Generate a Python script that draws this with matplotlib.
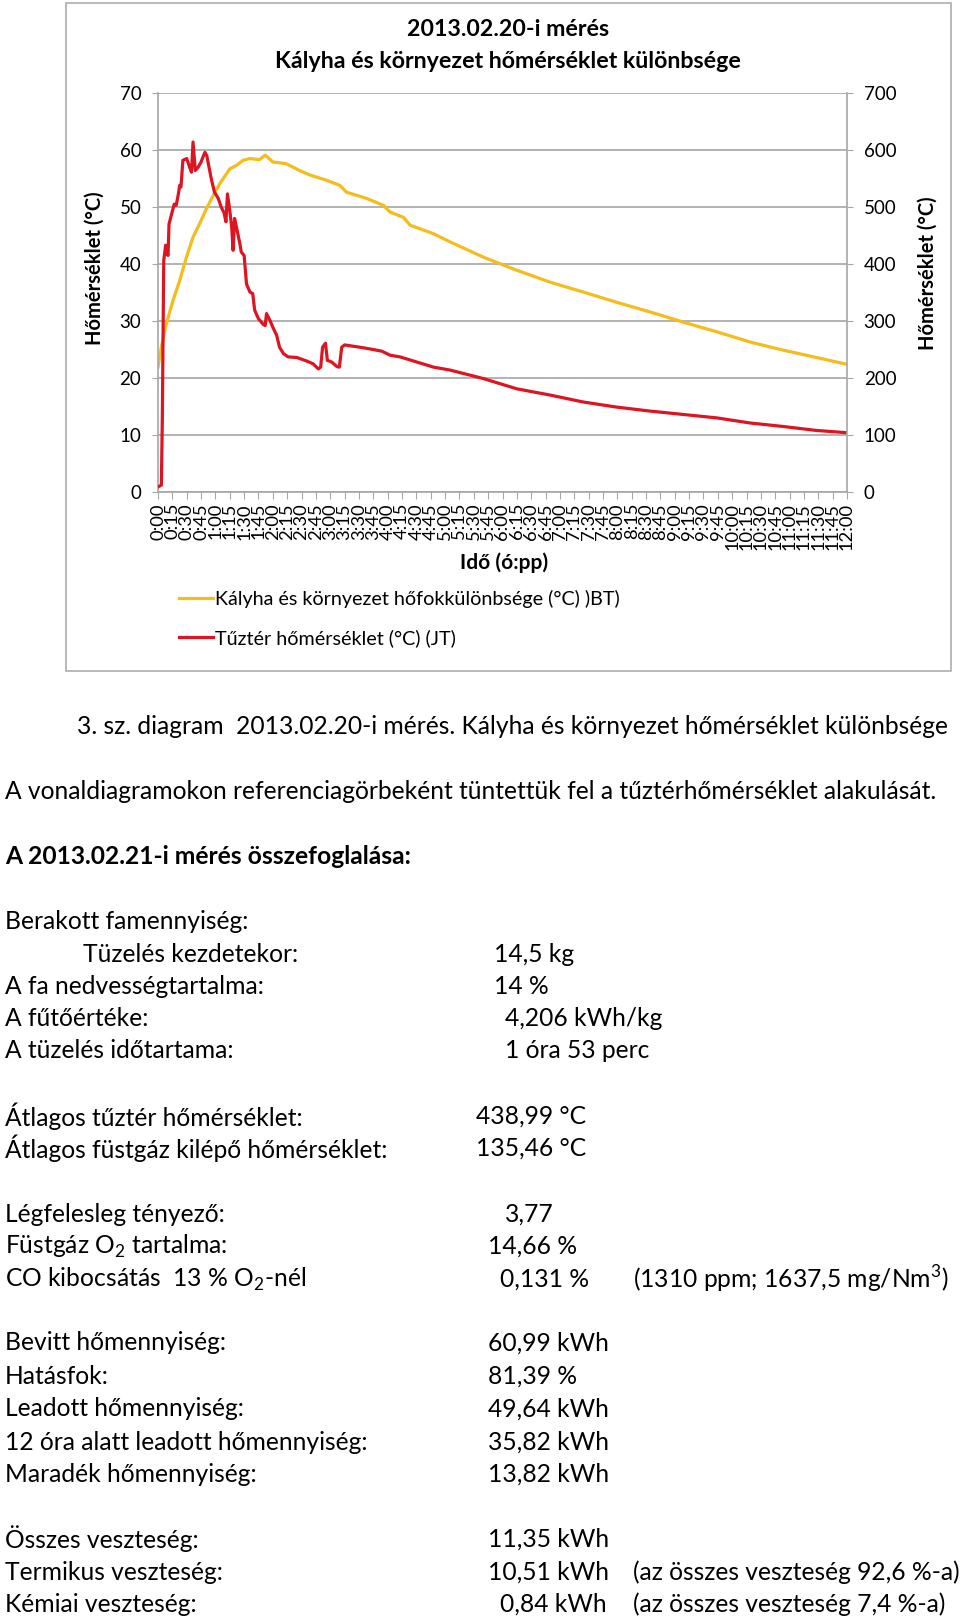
import matplotlib
matplotlib.use('Agg')
import matplotlib.pyplot as plt
from matplotlib.patches import Rectangle

# leolvasott ertekek: ido percben (0:00-tol), BT = bal tengely, JT = jobb tengely
bt_perc = [0, 3.5, 8.7, 15.7, 22.7, 29.7, 36.6, 43.6, 50.6, 57.6, 64.6, 71.5, 75, 82, 89, 96, 106, 112,
           120, 134, 148, 159, 176, 190, 197, 218, 235.6, 242.5, 256.5, 263.5, 288, 305, 340, 375, 410,
           444, 479, 514, 549, 584, 619, 653, 688, 720]
bt_ertek = [21.9, 25.4, 29.5, 33.6, 37.1, 41.2, 44.7, 47.1, 49.7, 52.0, 54.1, 55.8, 56.7, 57.3, 58.2, 58.5,
            58.3, 59.1, 57.9, 57.6, 56.4, 55.6, 54.7, 53.8, 52.6, 51.5, 50.3, 49.1, 48.2, 46.8, 45.3, 43.9,
            41.2, 38.9, 36.8, 35.1, 33.3, 31.6, 29.8, 28.1, 26.3, 24.9, 23.6, 22.4]

jt_perc = [0, 3.5, 4.5, 6, 8, 9.5, 10.5, 11.5, 15.7, 17, 19, 21, 22.7, 24, 26, 30, 33, 35, 36.6, 39, 42,
           45, 49, 51, 54, 56, 59, 63, 66, 69, 71, 72.6, 75, 77, 78.5, 80, 82.7, 85.5, 87, 90, 92.5, 96,
           99, 101, 105, 110, 112, 113.4, 117, 120, 124, 127, 131, 136, 145, 155, 162, 167.5, 170, 172,
           175, 177, 181.5, 187, 189.5, 192, 195, 211, 221.6, 234, 242.5, 253, 270.5, 288, 305, 340, 375,
           410, 444, 479, 514, 549, 584, 619, 653, 688, 720]
jt_ertek = [9, 12, 126, 406, 433, 418, 415, 470, 497, 505, 503, 520, 538, 535, 582, 585, 570, 561, 614,
            564, 570, 579, 596, 590, 564, 547, 526, 515, 500, 490, 474, 523, 494, 465, 424, 480, 459, 436,
            421, 415, 365, 351, 348, 319, 304, 294, 292, 313, 301, 289, 275, 254, 243, 237, 236, 230, 225,
            216, 219, 254, 261, 231, 228, 220, 219, 254, 258, 254, 251, 247, 240, 237, 228, 219, 214, 199,
            181, 170, 158, 149, 142, 136, 130, 121, 115, 108, 104]

ido_cimkek = ['0:00', '0:15', '0:30', '0:45', '1:00', '1:15', '1:30', '1:45', '2:00', '2:15', '2:30',
              '2:45', '3:00', '3:15', '3:30', '3:45', '4:00', '4:15', '4:30', '4:45', '5:00', '5:15',
              '5:30', '5:45', '6:00', '6:15', '6:30', '6:45', '7:00', '7:15', '7:30', '7:45', '8:00',
              '8:15', '8:30', '8:45', '9:00', '9:15', '9:30', '9:45', '10:00', '10:15', '10:30', '10:45',
              '11:00', '11:15', '11:30', '11:45', '12:00']
ido_tick = list(range(0, 721, 15))
bal_tick = [0, 10, 20, 30, 40, 50, 60, 70]
jobb_tick = [0, 100, 200, 300, 400, 500, 600, 700]

plt.rcParams['font.family'] = ['Lato', 'DejaVu Sans']
plt.rcParams['mathtext.fontset'] = 'custom'
plt.rcParams['mathtext.rm'] = 'Lato'

W, H = 960, 1621
fig = plt.figure(figsize=(W / 100, H / 100), dpi=100)
def fx(x): return x / W
def fy(y): return 1 - y / H

szurke = '#A6A6A6'
sarga = '#F4BC1C'
piros = '#DD1422'

ax = fig.add_axes([fx(158), fy(492), fx(847) - fx(158), fy(93) - fy(492)])
ax2 = ax.twinx()
l1, = ax.plot(bt_perc, bt_ertek, color=sarga, lw=2.3, solid_joinstyle='round')
l2, = ax2.plot(jt_perc, jt_ertek, color=piros, lw=2.3, solid_joinstyle='round')
ax.set_xlim(0, 720)
ax.set_ylim(0, 70)
ax2.set_ylim(0, 700)
ax.set_yticks(bal_tick)
ax2.set_yticks(jobb_tick)
ax.set_xticks(ido_tick)
ax.set_xticklabels(ido_cimkek, rotation=90, fontsize=13.2)
ax.grid(axis='y', color=szurke, lw=1.2)
ax.set_axisbelow(True)
for a in (ax, ax2):
    for s in a.spines.values():
        s.set_visible(False)
ax.spines['left'].set_visible(True)
ax.spines['bottom'].set_visible(True)
ax2.spines['right'].set_visible(True)
for s in (ax.spines['left'], ax.spines['bottom'], ax2.spines['right']):
    s.set_color(szurke)
    s.set_linewidth(1.2)
ax.tick_params(axis='y', length=4, color=szurke, pad=8, labelsize=13.5)
ax2.tick_params(axis='y', length=4, color=szurke, pad=8, labelsize=13.5)
ax.tick_params(axis='x', length=5, color=szurke, pad=3)

fig.text(fx(508), fy(29), '2013.02.20-i mérés', ha='center', va='center', fontsize=16.7, fontweight='bold')
fig.text(fx(508), fy(61), 'Kályha és környezet hőmérséklet különbsége', ha='center', va='center',
         fontsize=16.7, fontweight='bold')
fig.text(fx(95), fy(268), 'Hőmérséklet (°C)', rotation=90, ha='center', va='center', fontsize=14.5,
         fontweight='bold')
fig.text(fx(928), fy(273), 'Hőmérséklet (°C)', rotation=90, ha='center', va='center', fontsize=14.5,
         fontweight='bold')
fig.text(fx(504), fy(563), 'Idő (ó:pp)', ha='center', va='center', fontsize=15, fontweight='bold')
fig.legend([l1, l2], ['Kályha és környezet hőfokkülönbsége (°C) )BT)', 'Tűztér hőmérséklet (°C) (JT)'],
           loc='upper left', bbox_to_anchor=(fx(179), fy(590)), frameon=False, fontsize=14.2,
           handlelength=1.7, handletextpad=0.15, labelspacing=1.08, borderpad=0, borderaxespad=0)
fig.add_artist(Rectangle((fx(66), fy(671)), fx(951) - fx(66), fy(3) - fy(671), transform=fig.transFigure,
                         fill=False, ec=szurke, lw=1.1))

# dokumentum szoveg a diagram alatt
bs = 17.7
def sor(x, y, s, **kw):
    fig.text(fx(x), fy(y), s, ha='left', va='center', fontsize=bs, **kw)

O2 = r'O$_{\mathregular{2}}$'
sor(77, 726, '3. sz. diagram  2013.02.20-i mérés. Kályha és környezet hőmérséklet különbsége')
sor(5, 792, 'A vonaldiagramokon referenciagörbeként tüntettük fel a tűztérhőmérséklet alakulását.')
sor(5, 857, 'A 2013.02.21-i mérés összefoglalása:', fontweight='bold')
sor(5, 921, 'Berakott famennyiség:')
sor(83, 954, 'Tüzelés kezdetekor:')
sor(494, 954, '14,5 kg')
sor(5, 986, 'A fa nedvességtartalma:')
sor(494, 986, '14 %')
sor(5, 1019, 'A fűtőértéke:')
sor(505, 1019, '4,206 kWh/kg')
sor(5, 1051, 'A tüzelés időtartama:')
sor(505, 1051, '1 óra 53 perc')
sor(5, 1116, 'Átlagos tűztér hőmérséklet:')
sor(476, 1116, '438,99 °C')
sor(5, 1148, 'Átlagos füstgáz kilépő hőmérséklet:')
sor(476, 1148, '135,46 °C')
sor(5, 1214, 'Légfelesleg tényező:')
sor(505, 1214, '3,77')
sor(5, 1246, 'Füstgáz ' + O2 + ' tartalma:')
sor(488, 1246, '14,66 %')
sor(5, 1279, 'CO kibocsátás  13 % ' + O2 + '-nél')
sor(500, 1279, '0,131 %')
sor(633, 1279, r'(1310 ppm; 1637,5 mg/Nm$^{\mathregular{3}}$)')
sor(5, 1343, 'Bevitt hőmennyiség:')
sor(488, 1343, '60,99 kWh')
sor(5, 1376, 'Hatásfok:')
sor(488, 1376, '81,39 %')
sor(5, 1409, 'Leadott hőmennyiség:')
sor(488, 1409, '49,64 kWh')
sor(5, 1442, '12 óra alatt leadott hőmennyiség:')
sor(488, 1442, '35,82 kWh')
sor(5, 1474, 'Maradék hőmennyiség:')
sor(488, 1474, '13,82 kWh')
sor(5, 1539, 'Összes veszteség:')
sor(488, 1539, '11,35 kWh')
sor(5, 1572, 'Termikus veszteség:')
sor(488, 1572, '10,51 kWh')
sor(633, 1572, '(az összes veszteség 92,6 %-a)')
sor(5, 1604, 'Kémiai veszteség:')
sor(500, 1604, '0,84 kWh')
sor(633, 1604, '(az összes veszteség 7,4 %-a)')

fig.savefig('out.png', dpi=100)
